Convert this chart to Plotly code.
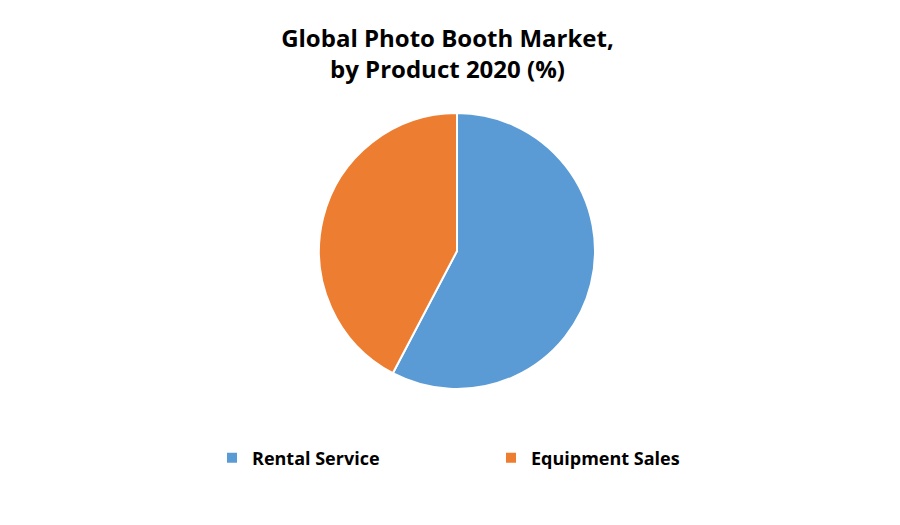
import plotly.graph_objects as go

labels = ["Rental Service", "Equipment Sales"]
values = [57.7, 42.3]
colors = ["#5B9BD5", "#ED7D31"]

fig = go.Figure(go.Pie(
    labels=labels, values=values, sort=False, direction="clockwise", rotation=0,
    marker=dict(colors=colors, line=dict(color="white", width=2)),
    textinfo="none", hoverinfo="label+percent",
    domain=dict(x=[311/900, 587/900], y=[1-382/525, 1-104/525]),
))
fig.update_layout(
    width=900, height=525,
    margin=dict(l=0, r=0, t=0, b=0),
    paper_bgcolor="white", plot_bgcolor="white",
    title=dict(text="<b>Global Photo Booth Market,<br>by Product 2020 (%)</b>",
               x=0.4883, xanchor="center", y=1-39/525, yanchor="middle",
               font=dict(family="Open Sans", size=24, color="black")),
    legend=dict(orientation="h", x=204/900, xanchor="left", y=1-450/525, yanchor="middle",
                font=dict(family="Open Sans", size=18, color="black", weight="bold"),
                entrywidth=234, itemsizing="constant"),
)
fig.write_html("out.html")
